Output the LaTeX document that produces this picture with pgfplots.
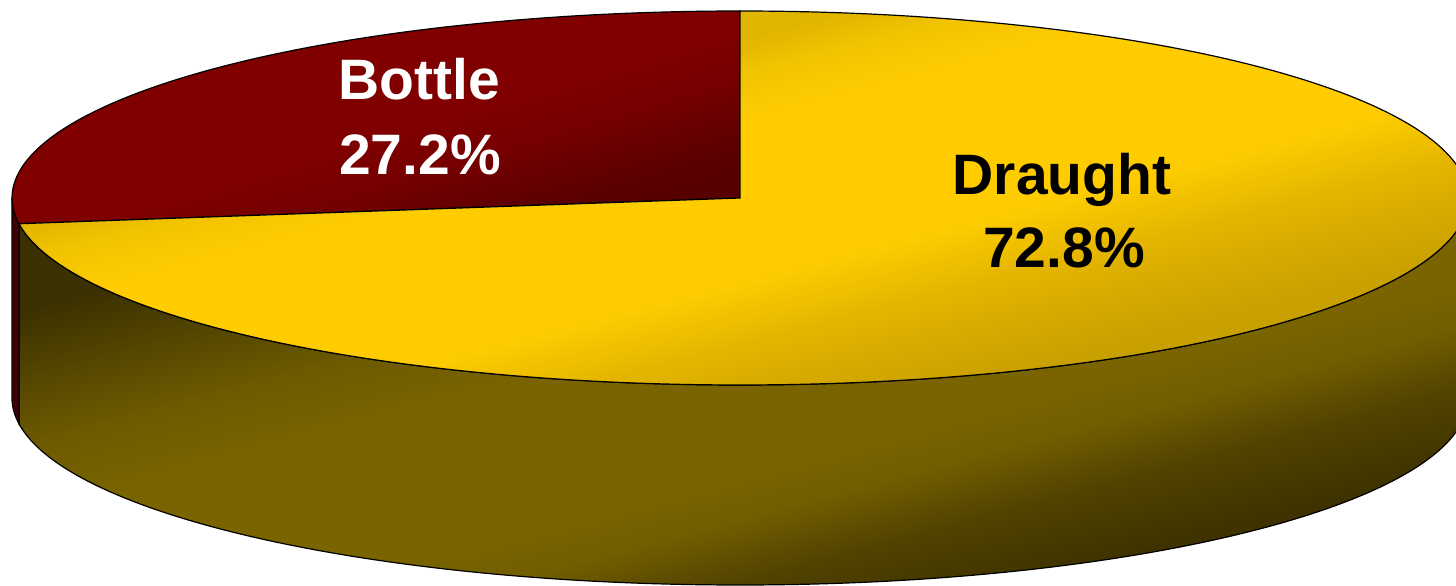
\documentclass[border=0pt]{standalone}
\usepackage{fontspec}
\setmainfont{Liberation Sans}
\usepackage{pgfplots}
\pgfplotsset{compat=1.18}
\definecolor{bS}{HTML}{440000}
\pgfdeclareverticalshading{sideshade}{100bp}{color(0bp)=(rgb,255:red,58;green,48;blue,0); color(29bp)=(rgb,255:red,62;green,51;blue,0); color(35bp)=(rgb,255:red,82;green,67;blue,0); color(40bp)=(rgb,255:red,114;green,94;blue,0); color(44bp)=(rgb,255:red,122;green,100;blue,0); color(55bp)=(rgb,255:red,122;green,100;blue,0); color(60.6bp)=(rgb,255:red,110;green,91;blue,0); color(66bp)=(rgb,255:red,86;green,71;blue,0); color(72bp)=(rgb,255:red,58;green,48;blue,0); color(100bp)=(rgb,255:red,58;green,48;blue,0)}
\pgfdeclareverticalshading{yelshade}{100bp}{color(0bp)=(rgb,255:red,191;green,152;blue,0); color(30bp)=(rgb,255:red,200;green,160;blue,0); color(35bp)=(rgb,255:red,218;green,172;blue,0); color(38bp)=(rgb,255:red,228;green,181;blue,0); color(43bp)=(rgb,255:red,252;green,203;blue,0); color(45bp)=(rgb,255:red,255;green,204;blue,0); color(56bp)=(rgb,255:red,255;green,204;blue,0); color(60bp)=(rgb,255:red,242;green,196;blue,0); color(63bp)=(rgb,255:red,226;green,181;blue,0); color(100bp)=(rgb,255:red,216;green,173;blue,0)}
\pgfdeclareverticalshading{botshade}{100bp}{color(0bp)=(rgb,255:red,80;green,0;blue,0); color(29bp)=(rgb,255:red,88;green,0;blue,0); color(40bp)=(rgb,255:red,118;green,0;blue,0); color(48bp)=(rgb,255:red,128;green,0;blue,0); color(100bp)=(rgb,255:red,128;green,0;blue,0)}
% data (percent)
\def\bottle{27.2}
\def\draught{72.8}
\pgfmathsetmacro{\tA}{90+3.6*\bottle}
\pgfmathsetmacro{\tB}{\tA+3.6*\draught}
\begin{document}
\begin{tikzpicture}
\begin{axis}[
  x=1pt, y=1pt, scale only axis,
  xmin=0, xmax=1456, ymin=0, ymax=586,
  hide axis, clip=true,
]
% side of draught (front)
\addplot[draw=black, line width=1.2pt, shade, shading=sideshade, shading angle=15,
  domain=\tA:360, samples=160]
  ({740+728*cos(x)},{388+187*sin(x)})
  -- (axis cs:1468,188) arc[start angle=360, end angle=\tA, x radius=728pt, y radius=187pt] -- cycle;
% side of bottle (small sliver at left)
\addplot[draw=black, line width=1.2pt, fill=bS,
  domain=180:\tA, samples=20]
  ({740+728*cos(x)},{388+187*sin(x)})
  -- ++(0,-200pt) arc[start angle=\tA, end angle=180, x radius=728pt, y radius=187pt] -- cycle;
% top: bottle
\addplot[draw=black, line width=1.2pt, shade, shading=botshade, shading angle=16.5,
  domain=90:\tA, samples=120]
  ({740+728*cos(x)},{388+187*sin(x)}) -- (axis cs:740,388) -- cycle;
% top: draught
\addplot[draw=black, line width=1.2pt, shade, shading=yelshade, shading angle=14.5,
  domain=\tA:\tB, samples=240]
  ({740+728*cos(x)},{388+187*sin(x)}) -- (axis cs:740,388) -- cycle;
\node[anchor=base, inner sep=0pt, text=white, font=\fontsize{57}{70}\selectfont\bfseries] at (axis cs:419,486) {Bottle};
\node[anchor=base, inner sep=0pt, text=white, font=\fontsize{57}{70}\selectfont\bfseries] at (axis cs:420,411) {27.2\%};
\node[anchor=base, inner sep=0pt, text=black, font=\fontsize{57}{70}\selectfont\bfseries] at (axis cs:1062,391) {Draught};
\node[anchor=base, inner sep=0pt, text=black, font=\fontsize{57}{70}\selectfont\bfseries] at (axis cs:1064,318) {72.8\%};
\end{axis}
\pgfresetboundingbox
\path (current axis.south west) rectangle (current axis.north east);
\end{tikzpicture}
\end{document}
